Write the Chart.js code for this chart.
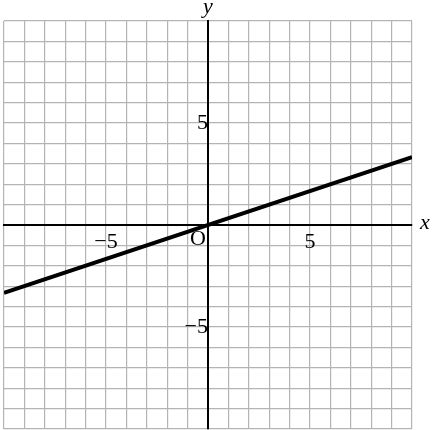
<!DOCTYPE html>
<html>
<head>
<meta charset="utf-8">
<script src="https://cdn.jsdelivr.net/npm/chart.js@4.4.1/dist/chart.umd.min.js"></script>
<style>
  html, body { margin: 0; padding: 0; background: #fff; }
  #wrap { width: 434px; height: 430px; }
</style>
</head>
<body>
<div id="wrap"><canvas id="graph"></canvas></div>
<script>
// Axis range and labels
const axisMin = -10;
const axisMax = 10;
const xTickLabels = [-5, 5];
const yTickLabels = [-5, 5];
const originLabel = 'O';
const xAxisName = 'x';
const yAxisName = 'y';

// The line y = x/3, end points
const lineX = [-10, 10];
const lineY = [-3.33, 3.33];

const serif = '"Liberation Serif", "DejaVu Serif", serif';

const minus = v => (v < 0 ? '\u2212' + Math.abs(v) : String(v));

// Origin mark and axis names
const axisNames = {
    id: 'axisNames',
    afterDraw(chart) {
        const { ctx, scales: { x, y } } = chart;
        const ox = x.getPixelForValue(0);
        const oy = y.getPixelForValue(0);
        ctx.save();
        ctx.fillStyle = '#000';
        ctx.font = '22px ' + serif;
        ctx.textAlign = 'right';
        ctx.textBaseline = 'top';
        ctx.fillText(originLabel, ox - 2, oy + 3);
        ctx.font = 'italic 22px ' + serif;
        ctx.textAlign = 'left';
        ctx.textBaseline = 'middle';
        ctx.fillText(xAxisName, x.right + 8, oy - 2);
        ctx.textAlign = 'center';
        ctx.textBaseline = 'bottom';
        ctx.fillText(yAxisName, ox, y.top - 3);
        ctx.restore();
    }
};

const gridOpts = {
    color: '#b4b4b4',
    lineWidth: 1.2,
    drawTicks: false
};

// keep empty end labels from eating into the plot area
const noEdgePad = s => {
    s.paddingTop = 0;
    s.paddingBottom = 0;
    s.paddingLeft = 0;
    s.paddingRight = 0;
};

new Chart(document.getElementById('graph'), {
    type: 'scatter',
    data: {
        datasets: [{
            data: lineX.map((v, i) => ({ x: v, y: lineY[i] })),
            showLine: true,
            borderColor: '#000',
            borderWidth: 4,
            pointRadius: 0,
            fill: false
        }]
    },
    options: {
        responsive: true,
        maintainAspectRatio: false,
        animation: false,
        layout: { padding: { left: 4, right: 22, top: 21, bottom: 1 } },
        plugins: { legend: { display: false }, tooltip: { enabled: false } },
        scales: {
            x: {
                type: 'linear',
                position: { y: 0 },
                min: axisMin,
                max: axisMax,
                grid: gridOpts,
                border: { color: '#000', width: 2 },
                afterFit: noEdgePad,
                ticks: {
                    stepSize: 1,
                    autoSkip: false,
                    maxRotation: 0,
                    padding: 4,
                    color: '#000',
                    font: { family: serif, size: 22 },
                    callback: v => (xTickLabels.includes(v) ? minus(v) : '')
                }
            },
            y: {
                type: 'linear',
                position: { x: 0 },
                min: axisMin,
                max: axisMax,
                grid: gridOpts,
                border: { color: '#000', width: 2 },
                afterFit: noEdgePad,
                ticks: {
                    stepSize: 1,
                    autoSkip: false,
                    padding: 5,
                    color: '#000',
                    font: { family: serif, size: 22 },
                    callback: v => (yTickLabels.includes(v) ? minus(v) : '')
                }
            }
        }
    },
    plugins: [axisNames]
});
</script>
</body>
</html>
